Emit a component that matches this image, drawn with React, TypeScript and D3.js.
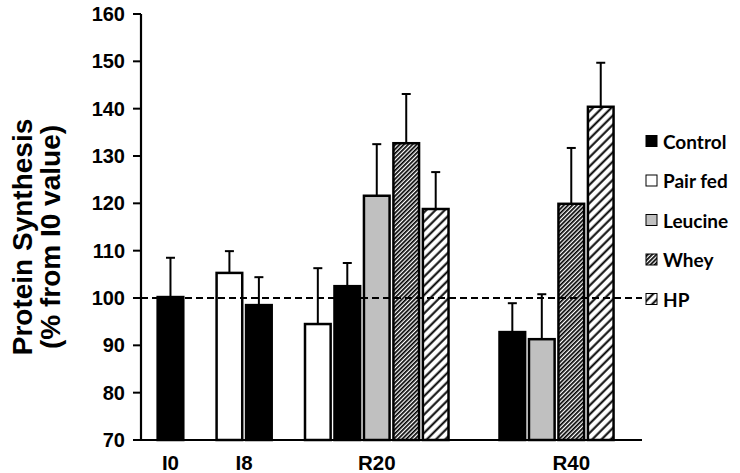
import React from "react";
import * as d3 from "d3";

// ---- data ----
const groups = ["I0", "I8", "R20", "R40"];
const seriesNames = ["Control", "Pair fed", "Leucine", "Whey", "HP"];
const groupSeries = [
  ["Control"],
  ["Pair fed", "Control"],
  ["Pair fed", "Control", "Leucine", "Whey", "HP"],
  ["Control", "Leucine", "Whey", "HP"],
];
const groupValues = [
  [100.2],
  [105.3, 98.5],
  [94.5, 102.5, 121.6, 132.7, 118.8],
  [92.8, 91.3, 119.9, 140.4],
];
const groupErrors = [
  [8.3],
  [4.6, 5.9],
  [11.8, 4.9, 10.9, 10.4, 7.8],
  [6.1, 9.5, 11.8, 9.3],
];
const yTicks = [70, 80, 90, 100, 110, 120, 130, 140, 150, 160];
const referenceValue = 100;

// ---- layout (not data) ----
const W = 740;
const H = 473;
const plot = { left: 141, right: 642, top: 14, bottom: 440 };
const slotCount = 17;
const groupStartSlot = [1, 3, 6, 12.6];
const groupSlotSpan = [1, 2, 5, 5];

const fills: Record<string, string> = {
  Control: "#000000",
  "Pair fed": "#ffffff",
  Leucine: "#c0c0c0",
  Whey: "url(#hatchWhey)",
  HP: "url(#hatchHP)",
};

export default function App() {
  const x = d3.scaleLinear().domain([0, slotCount]).range([plot.left, plot.right]);
  const y = d3.scaleLinear().domain([70, 160]).range([plot.bottom, plot.top]);
  const slotW = x(1) - x(0);
  const barW = slotW * 0.87;
  const capW = 9;

  const bars: { key: string; cx: number; v: number; e: number; s: string }[] = [];
  groups.forEach((g, gi) => {
    groupSeries[gi].forEach((s, si) => {
      bars.push({
        key: g + s,
        cx: x(groupStartSlot[gi] + si),
        v: groupValues[gi][si],
        e: groupErrors[gi][si],
        s,
      });
    });
  });

  const legendY = d3.scaleLinear().domain([0, 4]).range([141, 299]);

  return (
    <svg
      width={W}
      height={H}
      style={{ position: "fixed", left: 0, top: 0, background: "#fff" }}
    >
      <defs>
        <pattern id="hatchWhey" patternUnits="userSpaceOnUse" width={3} height={3} patternTransform="rotate(45)">
          <rect width={3} height={3} fill="#ffffff" />
          <line x1={0.8} y1={0} x2={0.8} y2={3} stroke="#000" strokeWidth={1.8} />
        </pattern>
        <pattern id="hatchHP" patternUnits="userSpaceOnUse" width={6.5} height={6.5} patternTransform="rotate(45)">
          <rect width={6.5} height={6.5} fill="#ffffff" />
          <line x1={1.5} y1={0} x2={1.5} y2={6.5} stroke="#000" strokeWidth={2} />
        </pattern>
      </defs>

      {/* y axis title */}
      <g fontFamily="'Liberation Sans', Arial, sans-serif" fontWeight={700} fontSize={28} fill="#000">
        <text transform="translate(22,237) rotate(-90)" textAnchor="middle" dominantBaseline="central">
          Protein Synthesis
        </text>
        <text transform="translate(50,237) rotate(-90)" textAnchor="middle" dominantBaseline="central">
          (% from I0 value)
        </text>
      </g>

      {/* y ticks */}
      <g fontFamily="'Liberation Sans', Arial, sans-serif" fontWeight={700} fontSize={20}>
        {yTicks.map((t) => (
          <g key={t}>
            <line x1={plot.left - 8} x2={plot.left} y1={y(t)} y2={y(t)} stroke="#000" strokeWidth={2} />
            <text x={plot.left - 16} y={y(t)} textAnchor="end" dominantBaseline="central">
              {t}
            </text>
          </g>
        ))}
      </g>

      {/* bars */}
      {bars.map((b) => (
        <g key={b.key}>
          <line
            x1={b.cx}
            x2={b.cx}
            y1={y(b.v)}
            y2={y(b.v + b.e)}
            stroke="#000"
            strokeWidth={2}
          />
          <line
            x1={b.cx - capW / 2}
            x2={b.cx + capW / 2}
            y1={y(b.v + b.e)}
            y2={y(b.v + b.e)}
            stroke="#000"
            strokeWidth={2}
          />
          <rect
            x={b.cx - barW / 2}
            y={y(b.v)}
            width={barW}
            height={y(70) - y(b.v)}
            fill={fills[b.s]}
            stroke="#000"
            strokeWidth={2.5}
          />
        </g>
      ))}

      {/* reference line */}
      <line
        x1={plot.left}
        x2={plot.right}
        y1={y(referenceValue)}
        y2={y(referenceValue)}
        stroke="#000"
        strokeWidth={2}
        strokeDasharray="7,4"
      />

      {/* axes */}
      <line x1={plot.left} x2={plot.left} y1={plot.top} y2={plot.bottom + 1} stroke="#000" strokeWidth={2.2} />
      <line x1={plot.left} x2={plot.right} y1={plot.bottom} y2={plot.bottom} stroke="#000" strokeWidth={2.2} />

      {/* x labels */}
      <g fontFamily="'Liberation Sans', Arial, sans-serif" fontWeight={700} fontSize={20.5}>
        {groups.map((g, gi) => (
          <text
            key={g}
            x={x(groupStartSlot[gi] + (groupSlotSpan[gi] - 1) / 2)}
            y={470}
            textAnchor="middle"
          >
            {g}
          </text>
        ))}
      </g>

      {/* legend */}
      <g fontFamily="Lato, 'Open Sans', sans-serif" fontWeight={700} fontSize={19}>
        {seriesNames.map((s, i) => (
          <g key={s} transform={`translate(646,${legendY(i)})`}>
            <rect x={0} y={-5.5} width={11} height={11} fill={fills[s]} stroke="#000" strokeWidth={1} />
            <text x={17} y={0} dominantBaseline="central">
              {s}
            </text>
          </g>
        ))}
      </g>
    </svg>
  );
}
